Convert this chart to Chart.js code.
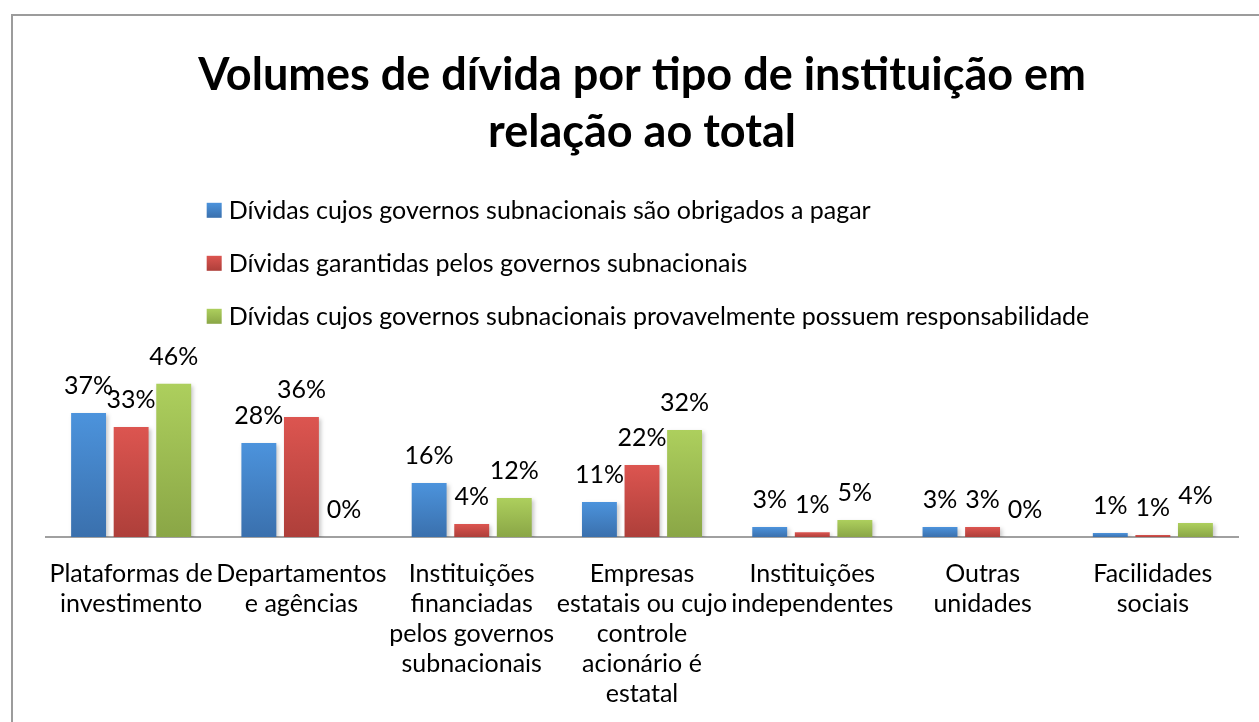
<!DOCTYPE html>
<html lang="pt">
<head>
  <meta charset="UTF-8">
  <title>Volumes de dívida por tipo de instituição</title>
  <script src="https://cdn.jsdelivr.net/npm/chart.js"></script>
  <style>
    * {
      margin: 0;
      padding: 0;
      box-sizing: border-box;
    }
    body {
      width: 1259px;
      height: 722px;
      overflow: hidden;
      background-color: #ffffff;
      font-family: Lato, sans-serif;
    }
    .frame {
      position: absolute;
      left: 11px;
      top: 14px;
      width: 1400px;
      height: 900px;
      border: 2px solid #9c9c9c;
    }
    .chart-box {
      position: absolute;
      left: 0;
      top: 0;
      width: 1259px;
      height: 723px;
    }
  </style>
</head>
<body>
  <div class="frame"></div>
  <div class="chart-box">
    <canvas id="debtChart"></canvas>
  </div>

  <script>
    const categories = [
      ['Plataformas de', 'investimento'],
      ['Departamentos', 'e agências'],
      ['Instituições', 'financiadas', 'pelos governos', 'subnacionais'],
      ['Empresas', 'estatais ou cujo', 'controle', 'acionário é', 'estatal'],
      ['Instituições', 'independentes'],
      ['Outras', 'unidades'],
      ['Facilidades', 'sociais']
    ];

    const seriesNames = [
      'Dívidas cujos governos subnacionais são obrigados a pagar',
      'Dívidas garantidas pelos governos subnacionais',
      'Dívidas cujos governos subnacionais provavelmente possuem responsabilidade'
    ];

    // percent of total
    const obrigados = [37.2, 28.2, 16.2, 10.5, 3.0, 3.0, 1.2];
    const garantidas = [33.0, 36.0, 3.9, 21.6, 1.4, 3.0, 0.6];
    const provavel = [46.0, 0, 11.7, 32.1, 5.1, 0, 4.2];

    const titleLines = ['Volumes de dívida por tipo de instituição em', 'relação ao total'];

    // [top, bottom] of each bar gradient
    const barColors = [
      ['#4c93dc', '#3a70ad'],
      ['#dc5550', '#ae3f3a'],
      ['#adcf5d', '#8aa646']
    ];

    function barFill(i) {
      return function (ctx) {
        const chart = ctx.chart;
        const y = chart.scales.y;
        if (!chart.chartArea || !y || ctx.raw === undefined) return barColors[i][0];
        const top = y.getPixelForValue(ctx.raw);
        const bottom = y.getPixelForValue(0);
        if (bottom - top < 1) return barColors[i][0];
        const g = chart.ctx.createLinearGradient(0, top, 0, bottom);
        g.addColorStop(0, barColors[i][0]);
        g.addColorStop(1, barColors[i][1]);
        return g;
      };
    }

    // soft shadow under the bars, like the office chart
    const barShadow = {
      id: 'barShadow',
      beforeDatasetsDraw(chart) {
        const c = chart.ctx;
        c.save();
        c.shadowColor = 'rgba(0, 0, 0, 0.22)';
        c.shadowBlur = 4;
        c.shadowOffsetX = 2;
        c.shadowOffsetY = 2;
      },
      afterDatasetsDraw(chart) {
        chart.ctx.restore();
      }
    };

    // percent labels above each bar
    const valueLabels = {
      id: 'valueLabels',
      afterDatasetsDraw(chart) {
        const c = chart.ctx;
        c.save();
        c.font = '25px Lato';
        c.fillStyle = '#000';
        c.textAlign = 'center';
        c.textBaseline = 'alphabetic';
        chart.data.datasets.forEach((ds, i) => {
          const meta = chart.getDatasetMeta(i);
          meta.data.forEach((bar, j) => {
            c.fillText(Math.round(ds.data[j]) + '%', bar.x, bar.y - 19);
          });
        });
        c.restore();
      }
    };

    // stacked legend, one series per row, block centred
    const stackedLegend = {
      id: 'stackedLegend',
      afterDraw(chart) {
        const c = chart.ctx;
        const box = 15;
        const gap = 7;
        const rowGap = 53;
        c.save();
        c.font = '25px Lato';
        c.textBaseline = 'middle';
        c.textAlign = 'left';
        const widths = seriesNames.map(n => c.measureText(n).width);
        const blockW = box + gap + Math.max(...widths);
        const centre = (chart.chartArea.left + chart.chartArea.right) / 2 + 6;
        const left = centre - blockW / 2;
        const firstY = chart.chartArea.top - 160;
        seriesNames.forEach((name, i) => {
          const cy = firstY + i * rowGap;
          const g = c.createLinearGradient(0, cy - box / 2, 0, cy + box / 2);
          g.addColorStop(0, barColors[i][0]);
          g.addColorStop(1, barColors[i][1]);
          c.fillStyle = g;
          c.fillRect(left, cy - box / 2, box, box);
          c.fillStyle = '#000';
          c.fillText(name, left + box + gap, cy + 1);
        });
        c.restore();
      }
    };

    const ctxDebt = document.getElementById('debtChart').getContext('2d');
    new Chart(ctxDebt, {
      type: 'bar',
      data: {
        labels: categories,
        datasets: [
          { label: seriesNames[0], data: obrigados, backgroundColor: barFill(0) },
          { label: seriesNames[1], data: garantidas, backgroundColor: barFill(1) },
          { label: seriesNames[2], data: provavel, backgroundColor: barFill(2) }
        ]
      },
      options: {
        responsive: true,
        maintainAspectRatio: false,
        animation: false,
        layout: {
          padding: { left: 46, right: 21, top: 0, bottom: 0 }
        },
        datasets: {
          bar: {
            categoryPercentage: 0.75,
            barPercentage: 0.82
          }
        },
        plugins: {
          legend: { display: false },
          tooltip: { enabled: false },
          title: {
            display: true,
            text: titleLines,
            color: '#000',
            font: { family: 'Lato', size: 45, weight: 'bold', lineHeight: 1.27 },
            padding: { top: 47, bottom: 209 }
          }
        },
        scales: {
          x: {
            grid: { display: false },
            border: { display: true, color: '#a0a0a0', width: 2 },
            ticks: {
              color: '#000',
              padding: 14,
              maxRotation: 0,
              autoSkip: false,
              font: { family: 'Lato', size: 25, lineHeight: 1.2 }
            }
          },
          y: {
            display: false,
            min: 0,
            max: 50
          }
        }
      },
      plugins: [barShadow, valueLabels, stackedLegend]
    });
  </script>
</body>
</html>
